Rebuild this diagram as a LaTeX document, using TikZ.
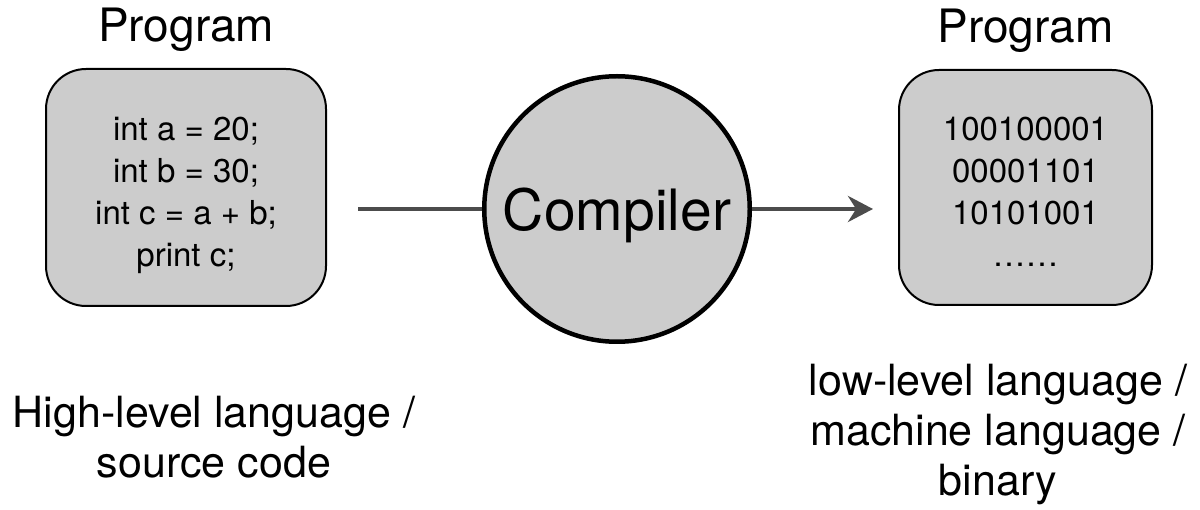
\documentclass[tikz,border=0pt]{standalone}
\usepackage{fontspec}
\setmainfont{TeX Gyre Heros}
\usetikzlibrary{arrows.meta,positioning}
\definecolor{boxgray}{gray}{0.8}
\definecolor{linegray}{gray}{0.3}

\begin{document}
\begin{tikzpicture}[x=1pt, y=-1pt,
  prog/.style={draw, line width=2pt, fill=boxgray, rounded corners=40pt, align=center,
    text height=159pt, text depth=0pt, font=\fontsize{33}{42.3}\selectfont},
  title/.style={font=\fontsize{46}{46}\selectfont, anchor=base, inner sep=0pt},
  note/.style={font=\fontsize{43}{50}\selectfont, align=center, anchor=base, inner sep=0pt},
  link/.style={draw=linegray, line width=4.7pt}]
% 画布
\useasboundingbox (0,0) rectangle (1200,510);

% 左右两个程序框
\node[prog, minimum width=280pt, minimum height=237pt] (src) at (186,187.5)
  {int a = 20;\\int b = 30;\\int c = a + b;\\print c;};
\node[prog, minimum width=253pt, minimum height=235pt] (dst) at (1025.5,187.5)
  {100100001\\00001101\\10101001\\……};
\node[title] (srctitle) at ([yshift=26pt]src.north) {Program};
\node[title] (dsttitle) at ([yshift=26pt]dst.north) {Program};

% 编译器
\node[draw, circle, line width=4.5pt, fill=boxgray, minimum size=265.5pt, inner sep=0pt,
  text depth=0pt, font=\fontsize{57}{57}\selectfont] (comp) at (617,209) {Compiler};

\draw[link, shorten <=31pt] (comp.west -| src.east) -- (comp.west);
\draw[link, -{Stealth[length=25pt, width=26pt]}, shorten >=25pt] (comp.east) -- (comp.east -| dst.west);

% 说明文字
\node[note] (srcnote) at (214,478) {High-level language /\\source code};
\node[note] (dstnote) at (998,495) {low-level language /\\machine language /\\binary};
\end{tikzpicture}
\end{document}
